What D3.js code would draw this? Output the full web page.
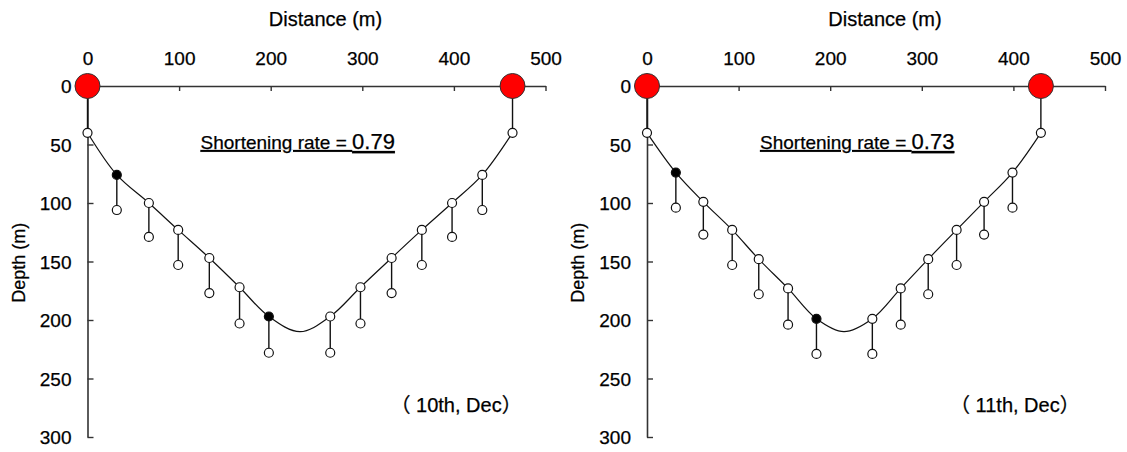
<!DOCTYPE html>
<html>
<head>
<meta charset="utf-8">
<script src="https://cdn.jsdelivr.net/npm/d3@7"></script>
<style>
  body { margin: 0; background: #fff; }
  svg { display: block; }
  text { font-family: "Liberation Sans", Arial, sans-serif; fill: #000; stroke: #000; stroke-width: 0.25px; }
</style>
</head>
<body>
<script>
// chain positions (distance m, depth m)
var dist10 = [0, 32, 67, 99, 133, 166, 198, 265, 298, 332, 365, 398, 431, 464];
var depth10 = [40, 76, 100, 123, 147, 172, 197, 197, 172, 147, 123, 100, 76, 40];
var hang10 = [null, 106, 129, 153, 177, 203, 228, 228, 203, 177, 153, 129, 106, null];
var trough10 = [232, 210];   // lowest point of the cable between the two deepest floats

var dist11 = [0, 31.5, 61.5, 93, 122, 154, 185, 246, 277, 307, 338, 368, 399, 430];
var depth11 = [40, 74, 99, 123, 148, 173, 199, 199, 173, 148, 123, 99, 74, 40];
var hang11 = [null, 104, 127, 153, 178, 204, 229, 229, 204, 178, 153, 127, 104, null];
var trough11 = [215, 210];

var filledIdx = [1, 6];
var xTicks = [0, 100, 200, 300, 400, 500];
var yTicks = [0, 50, 100, 150, 200, 250, 300];
var rates = ["0.79", "0.73"];
var dates = ["10th, Dec", "11th, Dec"];

var svg = d3.select("body").append("svg").attr("width", 1127).attr("height", 452);

function drawPanel(left, dist, depth, hang, trough, rate, date) {
	var x = d3.scaleLinear().domain([0, 500]).range([left, left + 458]);
	var y = d3.scaleLinear().domain([0, 300]).range([86, 437]);
	var g = svg.append("g");

	var xAxis = g.append("g").attr("transform", "translate(0," + y(0) + ")")
		.call(d3.axisTop(x).tickValues(xTicks).tickSizeInner(-5).tickSizeOuter(0).tickPadding(21));
	var yAxis = g.append("g").attr("transform", "translate(" + x(0) + ",0)")
		.call(d3.axisLeft(y).tickValues(yTicks).tickSizeInner(-6).tickSizeOuter(0).tickPadding(16));
	[xAxis, yAxis].forEach(function(a) {
		a.select(".domain").attr("stroke", "#333").attr("stroke-width", 1.6);
		a.selectAll(".tick line").attr("stroke", "#333").attr("stroke-width", 1.4);
		a.selectAll(".tick text").style("font-size", "19px").attr("fill", "#000");
	});
	yAxis.selectAll(".tick text").attr("dy", "0.36em");

	g.append("text").attr("x", (x(0) + x(500)) / 2 + 9).attr("y", 26)
		.attr("text-anchor", "middle").style("font-size", "20px").text("Distance (m)");
	g.append("text").attr("transform", "translate(" + (left - 63) + "," + (y(151)) + ") rotate(-90)")
		.attr("text-anchor", "middle").style("font-size", "18px").text("Depth (m)");

	var pts = dist.map(function(d, i) { return { x: d, y: depth[i], h: hang[i], i: i }; });
	var n = pts.length;
	var cable = pts.concat([{ x: trough[0], y: trough[1] }])
		.sort(function(a, b) { return a.x - b.x; });

	// drops from buoys to first/last chain point
	[pts[0], pts[n - 1]].forEach(function(p) {
		g.append("line").attr("x1", x(p.x)).attr("x2", x(p.x)).attr("y1", y(0)).attr("y2", y(p.y))
			.attr("stroke", "#111").attr("stroke-width", 1.4);
	});

	var line = d3.line().x(function(d) { return x(d.x); }).y(function(d) { return y(d.y); })
		.curve(d3.curveCatmullRom.alpha(0.5));
	g.append("path").datum(cable).attr("d", line).attr("fill", "none")
		.attr("stroke", "#111").attr("stroke-width", 1.2);

	var hp = pts.filter(function(p) { return p.h != null; });
	g.selectAll(".hl").data(hp).enter().append("line")
		.attr("x1", function(d) { return x(d.x); }).attr("x2", function(d) { return x(d.x); })
		.attr("y1", function(d) { return y(d.y); }).attr("y2", function(d) { return y(d.h); })
		.attr("stroke", "#111").attr("stroke-width", 1.4);
	g.selectAll(".hc").data(hp).enter().append("circle")
		.attr("cx", function(d) { return x(d.x); }).attr("cy", function(d) { return y(d.h); })
		.attr("r", 4.5).attr("fill", "#fff").attr("stroke", "#111").attr("stroke-width", 1.2);

	g.selectAll(".pc").data(pts).enter().append("circle")
		.attr("cx", function(d) { return x(d.x); }).attr("cy", function(d) { return y(d.y); })
		.attr("r", 4.5)
		.attr("fill", function(d) { return filledIdx.indexOf(d.i) >= 0 ? "#000" : "#fff"; })
		.attr("stroke", "#111").attr("stroke-width", 1.2);

	[pts[0], pts[n - 1]].forEach(function(p) {
		g.append("circle").attr("cx", x(p.x)).attr("cy", y(0)).attr("r", 12.5)
			.attr("fill", "#ff0000").attr("stroke", "#333").attr("stroke-width", 1);
	});

	var t = g.append("text").attr("x", left + 113).attr("y", 149)
		.style("text-decoration", "underline");
	t.append("tspan").style("font-size", "19px").text("Shortening rate = ");
	t.append("tspan").style("font-size", "22px").text(rate);

	var cjk = '"Noto Sans CJK JP", sans-serif';
	var dt = g.append("text").attr("x", left + 303).attr("y", 412).style("font-size", "20px");
	dt.append("tspan").style("font-family", cjk).text("（");
	dt.append("tspan").text(" " + date);
	dt.append("tspan").style("font-family", cjk).text("）");
}

drawPanel(87.5, dist10, depth10, hang10, trough10, rates[0], dates[0]);
drawPanel(647, dist11, depth11, hang11, trough11, rates[1], dates[1]);
</script>
</body>
</html>
